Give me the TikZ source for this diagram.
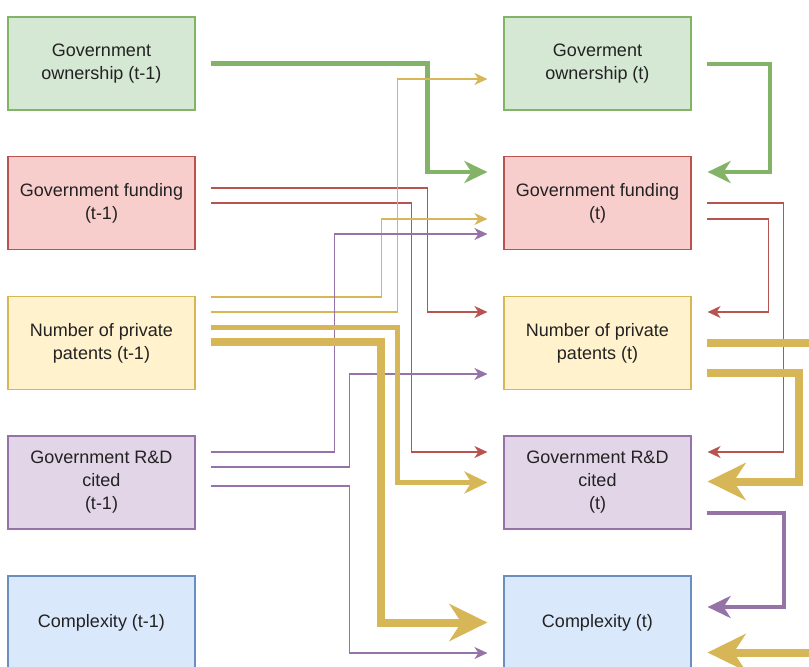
\documentclass[tikz,border=0pt]{standalone}
\usepackage{fontspec}
\setmainfont{Liberation Sans}
\usetikzlibrary{arrows.meta,calc}
\definecolor{gfill}{HTML}{D5E8D4}\definecolor{gline}{HTML}{82B366}
\definecolor{rfill}{HTML}{F8CECC}\definecolor{rline}{HTML}{B85450}
\definecolor{yfill}{HTML}{FFF2CC}\definecolor{yline}{HTML}{D6B656}
\definecolor{pfill}{HTML}{E1D5E7}\definecolor{pline}{HTML}{9673A6}
\definecolor{bfill}{HTML}{DAE8FC}\definecolor{bline}{HTML}{6C8EBF}
\definecolor{txt}{HTML}{222222}
\tikzset{
  box/.style={draw, line width=1.2pt, minimum width=187pt, minimum height=93pt,
    inner sep=0pt, align=center, text=txt, font=\fontsize{18}{23}\selectfont},
  gbox/.style={box, fill=gfill, draw=gline},
  rbox/.style={box, fill=rfill, draw=rline},
  ybox/.style={box, fill=yfill, draw=yline},
  pbox/.style={box, fill=pfill, draw=pline},
  bbox/.style={box, fill=bfill, draw=bline},
  thin/.style={line width=1.3pt, -{Stealth[length=13pt, width=12pt, inset=4pt]}},
  mid/.style={line width=4.5pt, -{Stealth[length=23pt, width=22pt, inset=7pt]}},
  fat/.style={line width=8pt, -{Stealth[length=38pt, width=37pt, inset=12pt]}},
}
\begin{document}
\begin{tikzpicture}[x=1pt, y=-1pt]
\useasboundingbox (0,0) rectangle (809,667);
\clip (0,0) rectangle (809,667);
\fill[white] (0,0) rectangle (809,667);
% left column
\node[gbox] (go1) at (101.5,63.5) {Government\\ownership (t-1)};
\node[rbox] (gf1) at (101.5,203) {Government funding\\(t-1)};
\node[ybox] (np1) at (101.5,343) {Number of private\\patents (t-1)};
\node[pbox] (rd1) at (101.5,482.5) {Government R\&D\\cited\\(t-1)};
\node[bbox] (cx1) at (101.5,622.5) {Complexity (t-1)};
% right column
\node[gbox] (go) at (597.5,63.5) {Goverment\\ownership (t)};
\node[rbox] (gf) at (597.5,203) {Government funding\\(t)};
\node[ybox] (np) at (597.5,343) {Number of private\\patents (t)};
\node[pbox] (rd) at (597.5,482.5) {Government R\&D\\cited\\(t)};
\node[bbox] (cx) at (597.5,622.5) {Complexity (t)};
% left-to-right connectors
\draw[mid, gline] ($(go1.east)+(15,0)$) -- ++(217,0) |- ($(gf.west)+(-16,-31)$);
\draw[thin, rline] ($(gf1.east)+(15,-15)$) -- ++(217,0) |- ($(np.west)+(-16,-31)$);
\draw[thin, rline] ($(gf1.east)+(15,0)$) -- ++(201,0) |- ($(rd.west)+(-16,-30.5)$);
\draw[thin, yline] ($(np1.east)+(15,-46)$) -- ++(171,0) |- ($(gf.west)+(-16,16)$);
\draw[thin, yline] ($(np1.east)+(15,-31)$) -- ++(187,0) |- ($(go.west)+(-16,15.5)$);
\draw[thin, pline] ($(rd1.east)+(15,-30.5)$) -- ++(124,0) |- ($(gf.west)+(-16,31)$);
\draw[thin, pline] ($(rd1.east)+(15,-15.5)$) -- ++(139,0) |- ($(np.west)+(-16,31)$);
\draw[thin, pline] ($(rd1.east)+(15,3.5)$) -- ++(139,0) |- ($(cx.west)+(-16,30.5)$);
\draw[mid, yline, line width=5pt] ($(np1.east)+(15,-16)$) -- ++(187,0) |- ($(rd.west)+(-16,0)$);
\draw[fat, yline] ($(np1.east)+(15,-1)$) -- ++(170,0) |- ($(cx.west)+(-16,0)$);
% right-side feedback connectors
\draw[mid, gline, line width=4pt] ($(go.east)+(15,0)$) -- ++(63,0) |- ($(gf.east)+(16,-31)$);
\draw[thin, rline] ($(gf.east)+(15,0)$) -- ++(77,0) |- ($(rd.east)+(16,-30.5)$);
\draw[thin, rline] ($(gf.east)+(15,16)$) -- ++(62,0) |- ($(np.east)+(16,-31)$);
\draw[fat, yline] ($(np.east)+(15,0)$) -- ++(130,0) |- ($(cx.east)+(16,30)$);
\draw[fat, yline] ($(np.east)+(15,30)$) -- ++(92,0) |- ($(rd.east)+(16,-1)$);
\draw[mid, pline, line width=4pt] ($(rd.east)+(15,30.5)$) -- ++(77,0) |- ($(cx.east)+(16,-15.5)$);
\end{tikzpicture}
\end{document}
